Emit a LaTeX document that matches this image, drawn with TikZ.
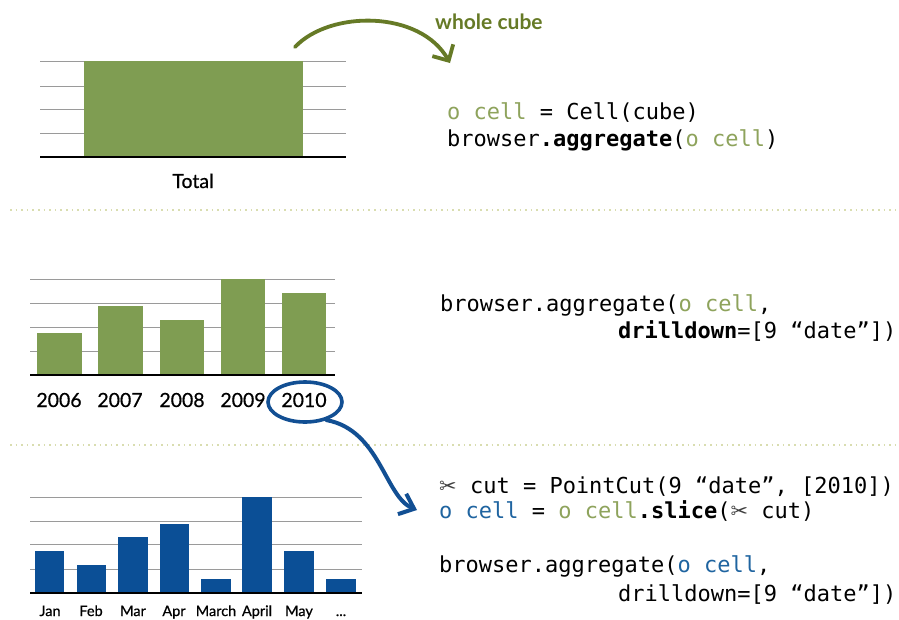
\documentclass[tikz,border=0pt]{standalone}
\usepackage{fontspec}
\setmainfont{Lato}
\newfontfamily\labelfont[FakeBold=0.6]{Lato}
\newfontfamily\codefont{DejaVu Sans Mono}
\newfontfamily\symfont{DejaVu Sans}
\usetikzlibrary{arrows.meta,shapes.geometric}

\definecolor{barGreen}{HTML}{7F9D52}
\definecolor{barBlue}{HTML}{0B4F96}
\definecolor{inkBlue}{HTML}{124F93}
\definecolor{inkGreen}{HTML}{667A26}
\definecolor{cellGreen}{HTML}{8EA35C}
\definecolor{cellBlue}{HTML}{1F64A0}
\definecolor{gridGray}{HTML}{9A9A9A}
\definecolor{sepDots}{HTML}{D9DDB0}

\newcommand{\scis}{{\symfont\fontsize{21}{21}\selectfont\color{black!75}✂}}
\newcommand{\cellg}{{\color{cellGreen}o cell}}
\newcommand{\cellb}{{\color{cellBlue}o cell}}

\tikzset{
  grid line/.style={draw=gridGray, line width=0.8pt},
  base line/.style={draw=black, line width=1.2pt},
  code/.style={anchor=base west, inner sep=0pt, font=\codefont\fontsize{22}{26}\selectfont},
  axislabel/.style={anchor=base, inner sep=0pt, font=\labelfont\fontsize{19.5}{22}\selectfont},
  monthlabel/.style={anchor=base, inner sep=0pt, font=\labelfont\fontsize{14.5}{16}\selectfont},
  separator/.style={draw=sepDots, line width=1.6pt, dash pattern=on 1.6pt off 4pt},
}

\begin{document}
\begin{tikzpicture}[x=1pt,y=-1pt]
\useasboundingbox[fill=white] (0,0) rectangle (899,619);

% ---------- whole cube: total bar ----------
\foreach \y in {61,86,109,133} \draw[grid line] (40,\y) -- (346,\y);
\fill[barGreen] (84,61) rectangle (303,157);
\draw[base line] (40,157) -- (346,157);
\node[axislabel] (total) at (193,188) {Total};

\node[anchor=base west, inner sep=0pt, text=inkGreen,
      font=\bfseries\fontsize{21}{24}\selectfont] (whole) at (435,29) {whole cube};
\coordinate (gstart) at (295,47);
\coordinate (gend) at (450,63);
\draw[inkGreen, line width=3.8pt, line cap=round,
      -{Straight Barb[length=12pt,width=24pt,line width=3.8pt]}]
  (gstart) .. controls (330,10) and (420,10) .. (gend);

\node[code] (c1) at (447,119) {\cellg{} = Cell(cube)};
\node[code] (c2) at (447,146) {browser\textbf{.aggregate}(\cellg)};

\draw[separator] (10,210) -- (899,210);

% ---------- drill down by year ----------
\foreach \y in {279,303,327,351} \draw[grid line] (30,\y) -- (335,\y);
\foreach \xa/\xb/\top in {37/82/333, 98/143/306, 160/204/320, 221/265/279, 282/326/293}
  \fill[barGreen] (\xa,\top) rectangle (\xb,375);
\draw[base line] (30,375) -- (335,375);
\node[axislabel] (y2006) at (59,407) {2006};
\node[axislabel] (y2007) at (120,407) {2007};
\node[axislabel] (y2008) at (182,407) {2008};
\node[axislabel] (y2009) at (243,407) {2009};
\node[axislabel] (y2010) at (304,407) {2010};
\node[ellipse, draw=inkBlue, line width=3.6pt, minimum width=74pt, minimum height=40pt,
      inner sep=0pt] (ring) at (305,402) {};

\node[code] (m1) at (440,311) {browser.aggregate(\cellg,};
\node[code] (m2) at (618,338) {\textbf{drilldown}=[9 “date”])};

\draw[separator] (10,445) -- (899,445);

% ---------- slice 2010, drill down by month ----------
\foreach \y in {497,521,544,569} \draw[grid line] (30,\y) -- (362,\y);
\foreach \xa/\xb/\top in {35/64/551, 77/106/565, 118/148/537, 160/189/524,
                          201/231/579, 242/272/497, 284/314/551, 326/356/579}
  \fill[barBlue] (\xa,\top) rectangle (\xb,593);
\draw[base line] (30,593) -- (362,593);
\node[monthlabel] (jan) at (50,616) {Jan};
\node[monthlabel] (feb) at (91,616) {Feb};
\node[monthlabel] (mar) at (133,616) {Mar};
\node[monthlabel] (apr) at (174,616) {Apr};
\node[monthlabel] (march) at (216,616) {March};
\node[monthlabel] (april) at (257,616) {April};
\node[monthlabel] (may) at (299,616) {May};
\node[monthlabel] (more) at (341,616) {...};

\node[code] (s1) at (439,493) {\scis\ cut = PointCut(9 “date”, [2010])};
\node[code] (s2) at (439,518) {\cellb{} = \cellg\textbf{.slice}(\scis\ cut)};
\node[code] (s3) at (439,572) {browser.aggregate(\cellb,};
\node[code] (s4) at (618,601) {drilldown=[9 “date”])};

\coordinate (bend) at (417,510);
\draw[inkBlue, line width=4pt, line cap=round,
      -{Straight Barb[length=13pt,width=22pt,line width=4pt]}]
  (ring.-40) .. controls (380,430) and (385,497) .. (bend);
\end{tikzpicture}
\end{document}
